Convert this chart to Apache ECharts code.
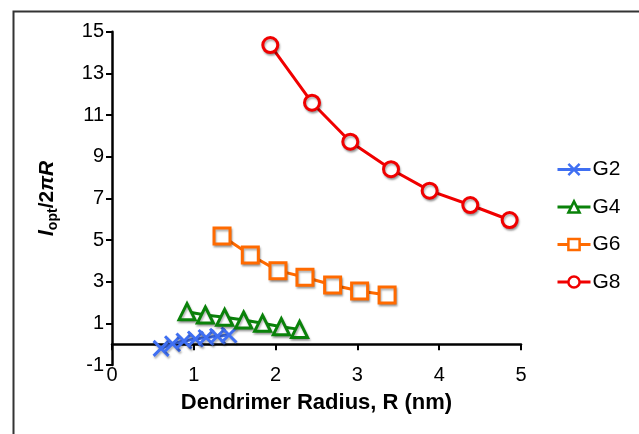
<!DOCTYPE html>
<html>
<head>
<meta charset="utf-8">
<script src="https://cdn.jsdelivr.net/npm/echarts@6/dist/echarts.min.js"></script>
<style>html,body{margin:0;padding:0;background:#fff;}#c{width:639px;height:434px;}</style>
</head>
<body>
<div id="c"></div>
<script>
const seriesNames = ['G2', 'G4', 'G6', 'G8'];
const g2X = [0.60, 0.74, 0.88, 1.02, 1.15, 1.29, 1.43];
const g2Y = [-0.20, 0.02, 0.15, 0.25, 0.32, 0.38, 0.44];
const g4X = [0.917, 1.141, 1.377, 1.609, 1.841, 2.07, 2.293];
const g4Y = [1.56, 1.40, 1.29, 1.16, 1.00, 0.84, 0.71];
const g6X = [1.345, 1.691, 2.029, 2.359, 2.697, 3.027, 3.363];
const g6Y = [5.19, 4.28, 3.53, 3.21, 2.84, 2.55, 2.36];
const g8X = [1.935, 2.445, 2.913, 3.411, 3.883, 4.380, 4.861];
const g8Y = [14.36, 11.59, 9.72, 8.40, 7.37, 6.68, 5.96];
const yTickValues = [-1, 1, 3, 5, 7, 9, 11, 13, 15];
const xTickValues = [0, 1, 2, 3, 4, 5];

const colors = ['#3f6ff2', '#0a820a', '#ff6a00', '#f00000'];
const symbols = ['path://M0,0L10,10M0,10L10,0', 'triangle', 'rect', 'circle'];
const sizes = [15, 16, 16, 15];
const xs = [g2X, g4X, g6X, g8X];
const ys = [g2Y, g4Y, g6Y, g8Y];

const chart = echarts.init(document.getElementById('c'), null, {renderer: 'canvas'});
const FONT = "'Liberation Sans', Arial, sans-serif";

const series = seriesNames.map((n, i) => ({
  name: n,
  type: 'line',
  xAxisIndex: 0,
  data: xs[i].map((x, k) => [x, ys[i][k]]),
  symbol: symbols[i],
  symbolSize: sizes[i],
  showAllSymbol: true,
  z: 3 + i,
  lineStyle: {color: colors[i], width: 3},
  itemStyle: {
    color: i === 0 ? colors[i] : '#ffffff',
    borderColor: colors[i],
    borderWidth: 3,
    shadowColor: 'rgba(0,0,0,0.3)',
    shadowBlur: 2,
    shadowOffsetX: 1,
    shadowOffsetY: 2
  },
  emphasis: {disabled: true},
  animation: false
}));

const option = {
  animation: false,
  backgroundColor: '#ffffff',
  grid: {left: 112, top: 31.7, width: 409, height: 333.3, containLabel: false},
  xAxis: [{
    type: 'value', min: 0, max: 5, interval: 1, position: 'bottom',
    axisLine: {show: false, onZero: false},
    axisTick: {show: false},
    splitLine: {show: false},
    axisLabel: {customValues: xTickValues, color: '#000', fontSize: 20, fontFamily: FONT, margin: 0},
    name: 'Dendrimer Radius, R (nm)', nameLocation: 'middle', nameGap: 27,
    nameTextStyle: {color: '#000', fontSize: 22, fontWeight: 'bold', fontFamily: FONT}
  }, {
    type: 'value', min: 0, max: 5, interval: 1, position: 'top',
    axisLine: {show: true, onZero: true, lineStyle: {color: '#000', width: 2.5}},
    axisTick: {show: true, inside: true, length: 6, lineStyle: {color: '#000', width: 2}, customValues: xTickValues},
    axisLabel: {show: false},
    splitLine: {show: false}
  }],
  yAxis: {
    type: 'value', min: -1, max: 15,
    axisLine: {show: true, onZero: false, lineStyle: {color: '#000', width: 2.5}},
    axisTick: {show: true, length: 6, lineStyle: {color: '#000', width: 2}, customValues: yTickValues},
    axisLabel: {customValues: yTickValues, color: '#000', fontSize: 20, fontFamily: FONT, margin: 8},
    splitLine: {show: false},
    name: '{a|l}{s|opt}{b|/2}{c|π}{a|R}', nameLocation: 'middle', nameRotate: 90, nameGap: 52,
    nameTextStyle: {
      rich: {
        a: {fontSize: 21, fontWeight: 'bold', fontStyle: 'italic', fontFamily: FONT, color: '#000', lineHeight: 26, verticalAlign: 'middle'},
        b: {fontSize: 21, fontWeight: 'bold', fontFamily: FONT, color: '#000', lineHeight: 26, verticalAlign: 'middle'},
        c: {fontSize: 21, fontWeight: 'bold', fontStyle: 'italic', fontFamily: FONT, color: '#000', lineHeight: 26, verticalAlign: 'middle'},
        s: {fontSize: 14, fontWeight: 'bold', fontFamily: FONT, color: '#000', lineHeight: 14, verticalAlign: 'bottom'}
      }
    }
  },
  legend: {
    orient: 'vertical', left: 556, top: 159, padding: 0, itemWidth: 33, itemHeight: 14, itemGap: 16.5,
    data: seriesNames,
    lineStyle: {width: 3},
    itemStyle: {borderWidth: 2.5},
    textStyle: {color: '#000', fontSize: 21, fontFamily: FONT, padding: [0, 0, 0, -3]},
    selectedMode: false
  },
  graphic: [{
    type: 'rect', left: 11, top: 9, silent: true,
    shape: {width: 700, height: 500},
    style: {fill: 'none', stroke: '#333', lineWidth: 2}
  }],
  series: series
};
chart.setOption(option);
</script>
</body>
</html>
